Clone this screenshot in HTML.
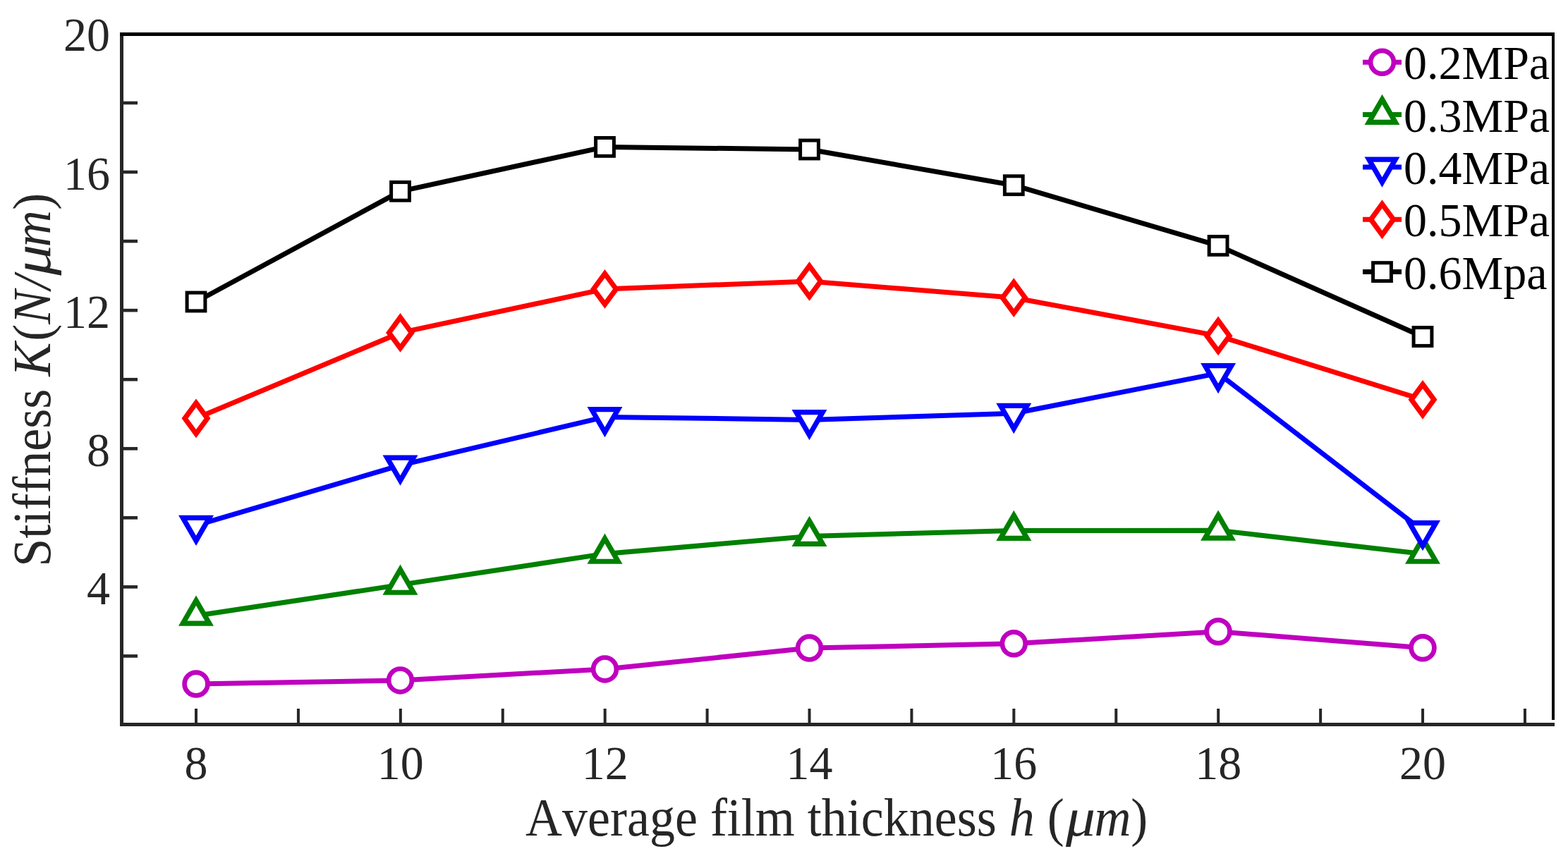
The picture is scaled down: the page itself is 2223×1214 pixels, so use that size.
<!DOCTYPE html>
<html><head><meta charset="utf-8"><title>Stiffness vs average film thickness</title>
<style>html,body{margin:0;padding:0;background:#fff;}body{width:2223px;height:1214px;overflow:hidden;}svg{display:block;}text{font-family:"Liberation Serif","Times New Roman",serif;font-kerning:none;}.it{font-style:italic;}</style></head><body>
<svg width="2223" height="1214" viewBox="0 0 2223 1214">
<rect width="2223" height="1214" fill="#fff"/>
<g fill="#262626">
<rect x="170" y="46" width="5" height="984"/>
<rect x="170" y="1025" width="2034" height="5"/>
<rect x="175" y="928.14" width="20" height="4.6"/>
<rect x="175" y="830.08" width="20" height="4.6"/>
<rect x="175" y="732.02" width="20" height="4.6"/>
<rect x="175" y="633.96" width="20" height="4.6"/>
<rect x="175" y="535.9" width="20" height="4.6"/>
<rect x="175" y="437.84" width="20" height="4.6"/>
<rect x="175" y="339.78" width="20" height="4.6"/>
<rect x="175" y="241.72" width="20" height="4.6"/>
<rect x="175" y="143.66" width="20" height="4.6"/>
<rect x="276" y="1005" width="4" height="20"/>
<rect x="420.92" y="1005" width="4" height="20"/>
<rect x="565.84" y="1005" width="4" height="20"/>
<rect x="710.76" y="1005" width="4" height="20"/>
<rect x="855.68" y="1005" width="4" height="20"/>
<rect x="1000.6" y="1005" width="4" height="20"/>
<rect x="1145.52" y="1005" width="4" height="20"/>
<rect x="1290.44" y="1005" width="4" height="20"/>
<rect x="1435.36" y="1005" width="4" height="20"/>
<rect x="1580.28" y="1005" width="4" height="20"/>
<rect x="1725.2" y="1005" width="4" height="20"/>
<rect x="1870.12" y="1005" width="4" height="20"/>
<rect x="2015.04" y="1005" width="4" height="20"/>
<rect x="2159.96" y="1005" width="4" height="20"/>
</g>
<rect x="170" y="46" width="2034" height="5" fill="#000"/>
<rect x="2200" y="46" width="4" height="975" fill="#000"/>
<polyline points="278,970 567.5,964.9 857.5,948.9 1147.5,919.1 1437.3,912.8 1727.1,895.7 2017,918.8" fill="none" stroke="#bf00bf" stroke-width="7" stroke-linejoin="round" stroke-linecap="butt"/>
<circle cx="278" cy="970" r="16.4" fill="#fff" stroke="#bf00bf" stroke-width="6.7"/>
<circle cx="567.5" cy="964.9" r="16.4" fill="#fff" stroke="#bf00bf" stroke-width="6.7"/>
<circle cx="857.5" cy="948.9" r="16.4" fill="#fff" stroke="#bf00bf" stroke-width="6.7"/>
<circle cx="1147.5" cy="919.1" r="16.4" fill="#fff" stroke="#bf00bf" stroke-width="6.7"/>
<circle cx="1437.3" cy="912.8" r="16.4" fill="#fff" stroke="#bf00bf" stroke-width="6.7"/>
<circle cx="1727.1" cy="895.7" r="16.4" fill="#fff" stroke="#bf00bf" stroke-width="6.7"/>
<circle cx="2017" cy="918.8" r="16.4" fill="#fff" stroke="#bf00bf" stroke-width="6.7"/>
<polyline points="278,873.3 567.5,829.4 857.5,785.4 1147.5,760.5 1437.3,752.5 1727.1,752.3 2017,785.4" fill="none" stroke="#008000" stroke-width="7" stroke-linejoin="round" stroke-linecap="butt"/>
<path d="M278 851.64 L296.76 884.13 L259.24 884.13 Z" fill="#fff" stroke="#008000" stroke-width="7.2" stroke-miterlimit="10"/>
<path d="M567.5 807.74 L586.26 840.23 L548.74 840.23 Z" fill="#fff" stroke="#008000" stroke-width="7.2" stroke-miterlimit="10"/>
<path d="M857.5 763.74 L876.26 796.23 L838.74 796.23 Z" fill="#fff" stroke="#008000" stroke-width="7.2" stroke-miterlimit="10"/>
<path d="M1147.5 738.84 L1166.26 771.33 L1128.74 771.33 Z" fill="#fff" stroke="#008000" stroke-width="7.2" stroke-miterlimit="10"/>
<path d="M1437.3 730.84 L1456.06 763.33 L1418.54 763.33 Z" fill="#fff" stroke="#008000" stroke-width="7.2" stroke-miterlimit="10"/>
<path d="M1727.1 730.64 L1745.86 763.13 L1708.34 763.13 Z" fill="#fff" stroke="#008000" stroke-width="7.2" stroke-miterlimit="10"/>
<path d="M2017 763.74 L2035.76 796.23 L1998.24 796.23 Z" fill="#fff" stroke="#008000" stroke-width="7.2" stroke-miterlimit="10"/>
<polyline points="278,745.2 567.5,659.9 857.5,591.4 1147.5,595.4 1437.3,586.3 1727.1,529.4 2017,752.5" fill="none" stroke="#0000ff" stroke-width="7" stroke-linejoin="round" stroke-linecap="butt"/>
<path d="M278 766.86 L296.76 734.37 L259.24 734.37 Z" fill="#fff" stroke="#0000ff" stroke-width="7.2" stroke-miterlimit="10"/>
<path d="M567.5 681.56 L586.26 649.07 L548.74 649.07 Z" fill="#fff" stroke="#0000ff" stroke-width="7.2" stroke-miterlimit="10"/>
<path d="M857.5 613.06 L876.26 580.57 L838.74 580.57 Z" fill="#fff" stroke="#0000ff" stroke-width="7.2" stroke-miterlimit="10"/>
<path d="M1147.5 617.06 L1166.26 584.57 L1128.74 584.57 Z" fill="#fff" stroke="#0000ff" stroke-width="7.2" stroke-miterlimit="10"/>
<path d="M1437.3 607.96 L1456.06 575.47 L1418.54 575.47 Z" fill="#fff" stroke="#0000ff" stroke-width="7.2" stroke-miterlimit="10"/>
<path d="M1727.1 551.06 L1745.86 518.57 L1708.34 518.57 Z" fill="#fff" stroke="#0000ff" stroke-width="7.2" stroke-miterlimit="10"/>
<path d="M2017 774.16 L2035.76 741.67 L1998.24 741.67 Z" fill="#fff" stroke="#0000ff" stroke-width="7.2" stroke-miterlimit="10"/>
<polyline points="278,593.3 567.5,471.9 857.5,409.9 1147.5,398.9 1437.3,422.2 1727.1,476.4 2017,566.8" fill="none" stroke="#ff0000" stroke-width="7" stroke-linejoin="round" stroke-linecap="butt"/>
<path d="M278 571.5 L294 593.3 L278 615.1 L262 593.3 Z" fill="#fff" stroke="#ff0000" stroke-width="7.2" stroke-miterlimit="10"/>
<path d="M567.5 450.1 L583.5 471.9 L567.5 493.7 L551.5 471.9 Z" fill="#fff" stroke="#ff0000" stroke-width="7.2" stroke-miterlimit="10"/>
<path d="M857.5 388.1 L873.5 409.9 L857.5 431.7 L841.5 409.9 Z" fill="#fff" stroke="#ff0000" stroke-width="7.2" stroke-miterlimit="10"/>
<path d="M1147.5 377.1 L1163.5 398.9 L1147.5 420.7 L1131.5 398.9 Z" fill="#fff" stroke="#ff0000" stroke-width="7.2" stroke-miterlimit="10"/>
<path d="M1437.3 400.4 L1453.3 422.2 L1437.3 444 L1421.3 422.2 Z" fill="#fff" stroke="#ff0000" stroke-width="7.2" stroke-miterlimit="10"/>
<path d="M1727.1 454.6 L1743.1 476.4 L1727.1 498.2 L1711.1 476.4 Z" fill="#fff" stroke="#ff0000" stroke-width="7.2" stroke-miterlimit="10"/>
<path d="M2017 545 L2033 566.8 L2017 588.6 L2001 566.8 Z" fill="#fff" stroke="#ff0000" stroke-width="7.2" stroke-miterlimit="10"/>
<polyline points="278,428 567.5,271.3 857.5,208.4 1147.5,212 1437.3,262.7 1727.1,348.4 2017,477.5" fill="none" stroke="#000000" stroke-width="7" stroke-linejoin="round" stroke-linecap="butt"/>
<rect x="265.1" y="415.1" width="25.8" height="25.8" fill="#fff" stroke="#000000" stroke-width="5"/>
<rect x="554.6" y="258.4" width="25.8" height="25.8" fill="#fff" stroke="#000000" stroke-width="5"/>
<rect x="844.6" y="195.5" width="25.8" height="25.8" fill="#fff" stroke="#000000" stroke-width="5"/>
<rect x="1134.6" y="199.1" width="25.8" height="25.8" fill="#fff" stroke="#000000" stroke-width="5"/>
<rect x="1424.4" y="249.8" width="25.8" height="25.8" fill="#fff" stroke="#000000" stroke-width="5"/>
<rect x="1714.2" y="335.5" width="25.8" height="25.8" fill="#fff" stroke="#000000" stroke-width="5"/>
<rect x="2004.1" y="464.6" width="25.8" height="25.8" fill="#fff" stroke="#000000" stroke-width="5"/>
<line x1="1932" y1="88.2" x2="1987" y2="88.2" stroke="#bf00bf" stroke-width="7"/>
<circle cx="1959.5" cy="88.2" r="16.4" fill="#fff" stroke="#bf00bf" stroke-width="6.7"/>
<text transform="translate(1990 112.4) scale(1 1.022)" font-size="66" fill="#000">0.2MPa</text>
<line x1="1932" y1="162.55" x2="1987" y2="162.55" stroke="#008000" stroke-width="7"/>
<path d="M1959.5 140.89 L1978.26 173.38 L1940.74 173.38 Z" fill="#fff" stroke="#008000" stroke-width="7.2" stroke-miterlimit="10"/>
<text transform="translate(1990 186.75) scale(1 1.022)" font-size="66" fill="#000">0.3MPa</text>
<line x1="1932" y1="236.9" x2="1987" y2="236.9" stroke="#0000ff" stroke-width="7"/>
<path d="M1959.5 258.56 L1978.26 226.07 L1940.74 226.07 Z" fill="#fff" stroke="#0000ff" stroke-width="7.2" stroke-miterlimit="10"/>
<text transform="translate(1990 261.1) scale(1 1.022)" font-size="66" fill="#000">0.4MPa</text>
<line x1="1932" y1="311.25" x2="1987" y2="311.25" stroke="#ff0000" stroke-width="7"/>
<path d="M1959.5 289.45 L1975.5 311.25 L1959.5 333.05 L1943.5 311.25 Z" fill="#fff" stroke="#ff0000" stroke-width="7.2" stroke-miterlimit="10"/>
<text transform="translate(1990 335.45) scale(1 1.022)" font-size="66" fill="#000">0.5MPa</text>
<line x1="1932" y1="385.6" x2="1987" y2="385.6" stroke="#000000" stroke-width="7"/>
<rect x="1946.6" y="372.7" width="25.8" height="25.8" fill="#fff" stroke="#000000" stroke-width="5"/>
<text transform="translate(1990 409.8) scale(1 1.022)" font-size="66" fill="#000">0.6Mpa</text>
<text transform="translate(156 856.88) scale(1 1.022)" font-size="66" fill="#262626" text-anchor="end">4</text>
<text transform="translate(156 660.76) scale(1 1.022)" font-size="66" fill="#262626" text-anchor="end">8</text>
<text transform="translate(156 464.64) scale(1 1.022)" font-size="66" fill="#262626" text-anchor="end">12</text>
<text transform="translate(156 268.52) scale(1 1.022)" font-size="66" fill="#262626" text-anchor="end">16</text>
<text transform="translate(156 72.4) scale(1 1.022)" font-size="66" fill="#262626" text-anchor="end">20</text>
<text transform="translate(278 1104.8) scale(1 1.022)" font-size="66" fill="#262626" text-anchor="middle">8</text>
<text transform="translate(567.84 1104.8) scale(1 1.022)" font-size="66" fill="#262626" text-anchor="middle">10</text>
<text transform="translate(857.68 1104.8) scale(1 1.022)" font-size="66" fill="#262626" text-anchor="middle">12</text>
<text transform="translate(1147.52 1104.8) scale(1 1.022)" font-size="66" fill="#262626" text-anchor="middle">14</text>
<text transform="translate(1437.36 1104.8) scale(1 1.022)" font-size="66" fill="#262626" text-anchor="middle">16</text>
<text transform="translate(1727.2 1104.8) scale(1 1.022)" font-size="66" fill="#262626" text-anchor="middle">18</text>
<text transform="translate(2017.04 1104.8) scale(1 1.022)" font-size="66" fill="#262626" text-anchor="middle">20</text>
<text transform="translate(745.1 1185) scale(1 1.045)" font-size="72" fill="#262626">Average film thickness <tspan class="it">h</tspan> (<tspan class="it" dx="2.2" textLength="42" lengthAdjust="spacingAndGlyphs">μ</tspan><tspan class="it" dx="-1.4">m</tspan><tspan dx="-0.4">)</tspan></text>
<text transform="translate(71 803.7) rotate(-90) scale(1 1.045)" font-size="72" fill="#262626">Stiffness <tspan class="it">K</tspan><tspan dx="2">(</tspan><tspan class="it">N</tspan><tspan class="it" dx="1">/</tspan><tspan class="it" dx="0" textLength="44" lengthAdjust="spacingAndGlyphs">μ</tspan><tspan class="it" dx="-3.5">m</tspan><tspan dx="0.5">)</tspan></text>
</svg></body></html>
